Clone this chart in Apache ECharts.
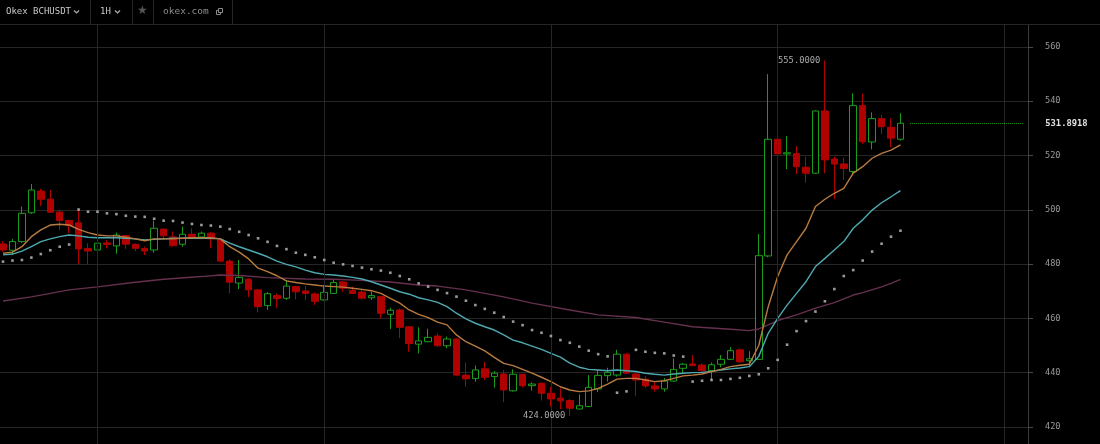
<!DOCTYPE html>
<html><head><meta charset="utf-8">
<script src="https://cdn.jsdelivr.net/npm/echarts/dist/echarts.min.js"></script>
<style>html,body{margin:0;padding:0;background:#000;overflow:hidden}#c{width:1100px;height:444px}</style>
</head><body><div id="c"></div>
<script>
// ---- data ----
const padCount = 13; // empty hourly slots to the right of the last candle
// [open, close, low, high]
const candles = [
[487.4,485.2,484.5,488.5],[485.1,488.3,483.4,489.3],[488.3,498.7,487.8,501.2],[498.9,507.3,498.5,509.5],
[506.9,503.9,501.4,507.7],[503.9,499.1,499.0,507.3],[499.2,496.0,492.6,500.0],[496.1,494.2,491.4,496.2],
[495.2,485.6,480.0,500.0],[485.7,484.8,479.8,487.7],[485.2,487.7,481.8,488.9],[487.8,487.2,485.8,488.8],
[486.7,490.7,483.8,491.6],[490.5,487.3,485.6,490.7],[487.3,485.8,484.8,487.6],[485.7,484.8,483.3,486.4],
[485.2,493.2,484.2,495.9],[492.9,490.4,489.3,493.2],[490.0,486.8,486.5,492.0],[487.3,491.0,486.4,493.8],
[491.0,489.5,489.3,493.2],[490.0,491.4,489.5,492.0],[491.4,489.3,485.8,491.7],[488.9,481.1,480.7,489.5],
[481.1,473.3,469.2,481.8],[473.0,475.1,470.8,481.5],[474.4,470.5,467.8,474.8],[470.5,464.3,462.2,470.7],
[464.7,469.1,463.1,469.6],[468.4,467.3,463.9,469.2],[467.4,471.9,466.8,474.1],[471.7,469.8,467.0,471.9],
[470.1,469.2,466.8,471.9],[469.0,466.3,464.9,469.5],[466.8,469.6,466.5,472.3],[469.2,473.2,469.0,474.4],
[473.4,471.1,469.8,473.8],[470.2,469.2,469.0,471.7],[469.7,467.4,467.0,470.5],[467.6,468.4,466.8,469.8],
[468.0,461.9,460.0,468.3],[461.5,463.0,456.1,463.9],[463.1,456.7,452.7,463.6],[456.9,450.7,447.7,457.2],
[450.5,451.7,447.1,456.7],[451.4,453.0,451.2,456.2],[453.5,449.9,449.6,454.5],[449.9,452.4,449.0,453.3],
[452.4,439.1,438.8,452.6],[439.1,437.7,434.8,443.8],[437.8,441.0,436.7,442.6],[441.4,438.3,437.3,444.0],
[438.6,439.8,434.5,440.6],[439.5,433.6,429.1,441.0],[433.3,439.4,433.0,441.2],[439.4,435.2,434.6,439.5],
[435.2,435.8,433.4,436.4],[436.1,432.4,429.7,436.4],[432.4,430.3,427.5,434.8],[430.6,429.6,426.5,434.2],
[429.7,426.9,424.0,430.3],[426.6,427.8,426.5,432.0],[427.5,434.6,427.4,439.1],[434.0,439.0,432.8,441.0],
[438.9,440.1,436.7,441.8],[439.1,446.8,438.5,448.4],[446.8,439.8,439.6,447.2],[439.5,437.3,431.4,440.7],
[437.6,435.1,434.3,438.8],[435.1,434.0,433.0,436.7],[434.0,436.9,433.0,438.0],[436.9,441.2,436.7,445.3],
[441.6,443.1,439.8,443.5],[443.2,442.6,442.4,446.5],[442.8,440.7,440.2,443.4],[440.8,442.9,437.3,443.7],
[443.1,444.9,442.0,446.5],[444.9,448.1,444.7,449.4],[448.4,444.0,443.5,449.0],[444.4,445.1,442.5,447.9],
[444.9,483.1,444.7,491.1],[483.0,526.0,482.5,550.0],[526.0,520.6,515.9,547.2],[520.6,521.0,515.0,527.2],
[520.7,515.9,513.2,523.5],[515.7,513.5,510.0,519.6],[513.5,536.4,513.2,536.6],[536.4,518.4,513.5,555.0],
[518.7,516.9,503.9,519.6],[516.9,515.2,511.0,519.2],[514.1,538.4,512.8,542.9],[538.4,525.1,524.3,542.9],
[525.0,533.6,522.3,535.9],[533.6,530.6,527.9,535.0],[530.4,526.4,523.0,533.7],[526.0,531.8918,525.5,535.6]
];
const maFast = [
484.0,484.4,486.4,490.1,492.6,494.4,494.7,494.4,492.8,491.6,490.7,490.4,490.4,489.9,489.3,488.6,
489.3,489.3,489.3,489.5,489.7,489.7,489.7,489.3,486.4,484.4,481.9,478.5,477.2,475.7,473.8,473.2,
472.7,472.3,471.9,471.7,471.5,471.1,470.7,470.2,469.2,467.4,465.6,463.1,461.5,460.3,458.6,457.6,
453.9,451.4,449.8,448.0,445.6,443.4,442.6,441.2,439.8,438.3,436.7,434.8,433.6,433.0,433.3,434.2,
435.8,437.6,437.9,437.9,437.3,436.7,437.0,437.9,438.8,439.1,439.5,440.4,441.2,442.2,442.7,443.1,
450.0,464.3,475.4,483.4,488.3,493.2,501.2,503.9,506.1,507.9,513.5,515.9,519.0,520.8,522.0,523.9
];
const maMid = [
483.4,483.7,484.8,486.4,488.3,489.3,490.1,490.7,490.4,489.9,489.7,489.7,489.7,489.5,489.3,488.9,
489.1,489.3,489.5,489.5,489.5,489.5,489.5,489.3,487.7,486.4,485.2,484.0,482.7,481.1,479.9,479.0,
477.8,476.8,476.2,476.0,475.6,475.1,474.5,473.5,472.3,471.1,469.8,468.9,467.6,466.8,465.9,464.3,
461.9,459.8,458.2,456.9,455.7,453.9,452.0,451.0,449.8,448.6,447.1,445.7,443.5,442.0,441.2,441.0,
440.7,441.0,440.7,440.4,439.8,439.4,439.1,439.5,439.8,440.0,440.1,440.4,441.0,441.4,441.7,442.2,
446.0,454.5,460.0,464.9,469.2,473.5,479.1,482.1,485.2,488.3,493.2,496.3,499.9,502.6,504.8,507.1
];
const maSlowIdx = [0,3,7,10,14,17,21,23,25,28,32,35,38,41,44,46,49,53,56,60,63,67,70,73,77,79,80,81,82,84,86,88,90,91,93,94,95];
const maSlowVal = [466.4,467.9,470.5,471.6,473.3,474.4,475.4,476.0,475.8,475.0,474.5,474.4,474.0,473.4,472.3,471.9,470.5,467.9,465.6,463.1,461.3,460.3,458.6,456.9,456.0,455.5,456.1,457.6,459.2,461.3,463.8,465.8,468.6,469.5,471.6,472.9,474.4];
const sar = [
480.9,481.3,481.5,482.4,483.7,485.1,486.4,487.2,500.1,499.3,499.3,498.7,498.4,497.8,497.5,497.4,
496.7,496.0,495.9,495.3,494.8,494.4,494.2,493.8,492.9,491.9,490.7,489.5,488.2,486.7,485.5,484.2,
483.4,482.5,481.5,480.5,479.9,479.3,478.7,478.1,477.6,476.8,475.6,474.4,472.9,471.7,470.5,469.3,
468.0,466.5,464.9,463.5,462.1,460.5,458.8,457.5,455.7,454.7,453.5,452.0,451.0,449.6,448.1,446.8,
446.0,432.6,433.1,448.4,447.7,447.3,447.1,446.3,445.9,436.7,437.0,437.3,437.3,437.7,438.1,438.8,
439.4,441.6,444.7,450.3,455.3,459.0,462.5,466.3,470.8,475.6,477.8,481.3,484.6,487.5,490.1,492.3
];
const yMin = 400, yMax = 580, yStep = 20;
const lastPrice = 531.8918;
const highMark = [87, 555];
const lowMark = [60, 424];
const vGridIdx = [10, 34, 58, 82, 106];
const headerTexts = ['Okex BCHUSDT', '1H', 'okex.com'];

// ---- chart ----
const total = candles.length + padCount;
const cats = Array.from({length: total}, (_, i) => 'h' + i);
const mono = '"DejaVu Sans Mono", monospace';
const chart = echarts.init(document.getElementById('c'), null, {renderer: 'canvas'});
const hdr = '#262626';
chart.setOption({
  backgroundColor: '#000',
  animation: false,
  grid: {left: -1.7, top: -7.3, width: 1029.7, height: 488.5, containLabel: false, outerBoundsMode: 'none'},
  xAxis: {
    type: 'category', data: cats, boundaryGap: true,
    axisLine: {show: false}, axisTick: {show: false}, axisLabel: {show: false}, splitLine: {show: false}
  },
  yAxis: {
    type: 'value', position: 'right', min: yMin, max: yMax, interval: yStep, scale: true,
    axisLine: {show: true, lineStyle: {color: '#3a3a3a', width: 1}},
    axisTick: {show: true, inside: false, length: 5, lineStyle: {color: '#4a4a4a'}},
    axisLabel: {color: '#9a9a9a', fontFamily: mono, fontSize: 8.6, margin: 17},
    splitLine: {show: true, lineStyle: {color: '#262626', width: 1}}
  },
  series: [
    {
      type: 'line', data: [], z: 1, silent: true,
      markLine: {
        silent: true, symbol: 'none', animation: false,
        label: {show: false},
        lineStyle: {color: '#262626', width: 1, type: 'solid'},
        data: vGridIdx.map(i => ({xAxis: i}))
      }
    },
    {
      type: 'candlestick', data: candles, z: 3, barWidth: 7,
      itemStyle: {color: '#000', color0: '#b00000', borderColor: '#1a9e1a', borderColor0: '#b00000', borderWidth: 1},
      markLine: {
        silent: true, symbol: 'none', animation: false,
        lineStyle: {color: '#1a9e1a', type: 'dotted', width: 1},
        label: {show: true, position: 'end', formatter: lastPrice.toFixed(4), color: '#e0e0e0',
                fontFamily: mono, fontSize: 8.8, fontWeight: 'bold', distance: 22},
        data: [[{coord: [candles.length, lastPrice]}, {coord: [total - 1, lastPrice]}]]
      },
      markPoint: {
        silent: true, animation: false, symbol: 'circle', symbolSize: 1,
        itemStyle: {color: 'rgba(0,0,0,0)'},
        label: {show: true, position: 'left', distance: 4, color: '#a8a8a8', fontFamily: mono, fontSize: 8.8},
        data: [
          {coord: highMark, label: {formatter: highMark[1].toFixed(4)}},
          {coord: lowMark, label: {formatter: lowMark[1].toFixed(4)}}
        ]
      }
    },
    {type: 'line', data: maSlowIdx.map((x, k) => [x, maSlowVal[k]]), z: 4, symbol: 'none', silent: true,
     lineStyle: {color: '#66304f', width: 1.4}},
    {type: 'line', data: maMid, z: 4, symbol: 'none', silent: true, lineStyle: {color: '#4fa9b1', width: 1.4}},
    {type: 'line', data: maFast, z: 4, symbol: 'none', silent: true, lineStyle: {color: '#b97b40', width: 1.4}},
    {type: 'scatter', data: sar.map((v, i) => [i, v]), z: 5, symbol: 'rect', symbolSize: 2.6, silent: true,
     itemStyle: {color: '#c0c0c0'}}
  ],
  graphic: [
    {type: 'rect', shape: {x: 0, y: 0, width: 1100, height: 24}, style: {fill: '#000'}, z: 100},
    {type: 'line', shape: {x1: 0, y1: 24.5, x2: 1100, y2: 24.5}, style: {stroke: hdr, lineWidth: 1}, z: 101},
    {type: 'line', shape: {x1: 90.5, y1: 0, x2: 90.5, y2: 24}, style: {stroke: hdr, lineWidth: 1}, z: 101},
    {type: 'line', shape: {x1: 132.5, y1: 0, x2: 132.5, y2: 24}, style: {stroke: hdr, lineWidth: 1}, z: 101},
    {type: 'line', shape: {x1: 153.5, y1: 0, x2: 153.5, y2: 24}, style: {stroke: hdr, lineWidth: 1}, z: 101},
    {type: 'line', shape: {x1: 232.5, y1: 0, x2: 232.5, y2: 24}, style: {stroke: hdr, lineWidth: 1}, z: 101},
    {type: 'text', left: 6, top: 7, z: 102, style: {text: headerTexts[0], fill: '#c8c8c8', font: '9px ' + mono}},
    {type: 'polyline', shape: {points: [[74, 10.5], [76.5, 13], [79, 10.5]]}, style: {stroke: '#b0b0b0', lineWidth: 1.2, fill: null}, z: 102},
    {type: 'text', left: 100, top: 7, z: 102, style: {text: headerTexts[1], fill: '#c8c8c8', font: '9px ' + mono}},
    {type: 'polyline', shape: {points: [[115, 10.5], [117.5, 13], [120, 10.5]]}, style: {stroke: '#b0b0b0', lineWidth: 1.2, fill: null}, z: 102},
    {type: 'text', left: 137, top: 5, z: 102, style: {text: '\u2605', fill: '#555', font: '12px "DejaVu Sans"'}},
    {type: 'text', left: 163, top: 7, z: 102, style: {text: headerTexts[2], fill: '#8c8c8c', font: '9.5px ' + mono}},
    {type: 'rect', shape: {x: 216.5, y: 10.5, width: 4, height: 4}, style: {stroke: '#8c8c8c', fill: null, lineWidth: 1}, z: 102},
    {type: 'rect', shape: {x: 218.5, y: 8.5, width: 4, height: 4}, style: {stroke: '#8c8c8c', fill: '#000', lineWidth: 1}, z: 103}
  ]
});
</script>
</body></html>
